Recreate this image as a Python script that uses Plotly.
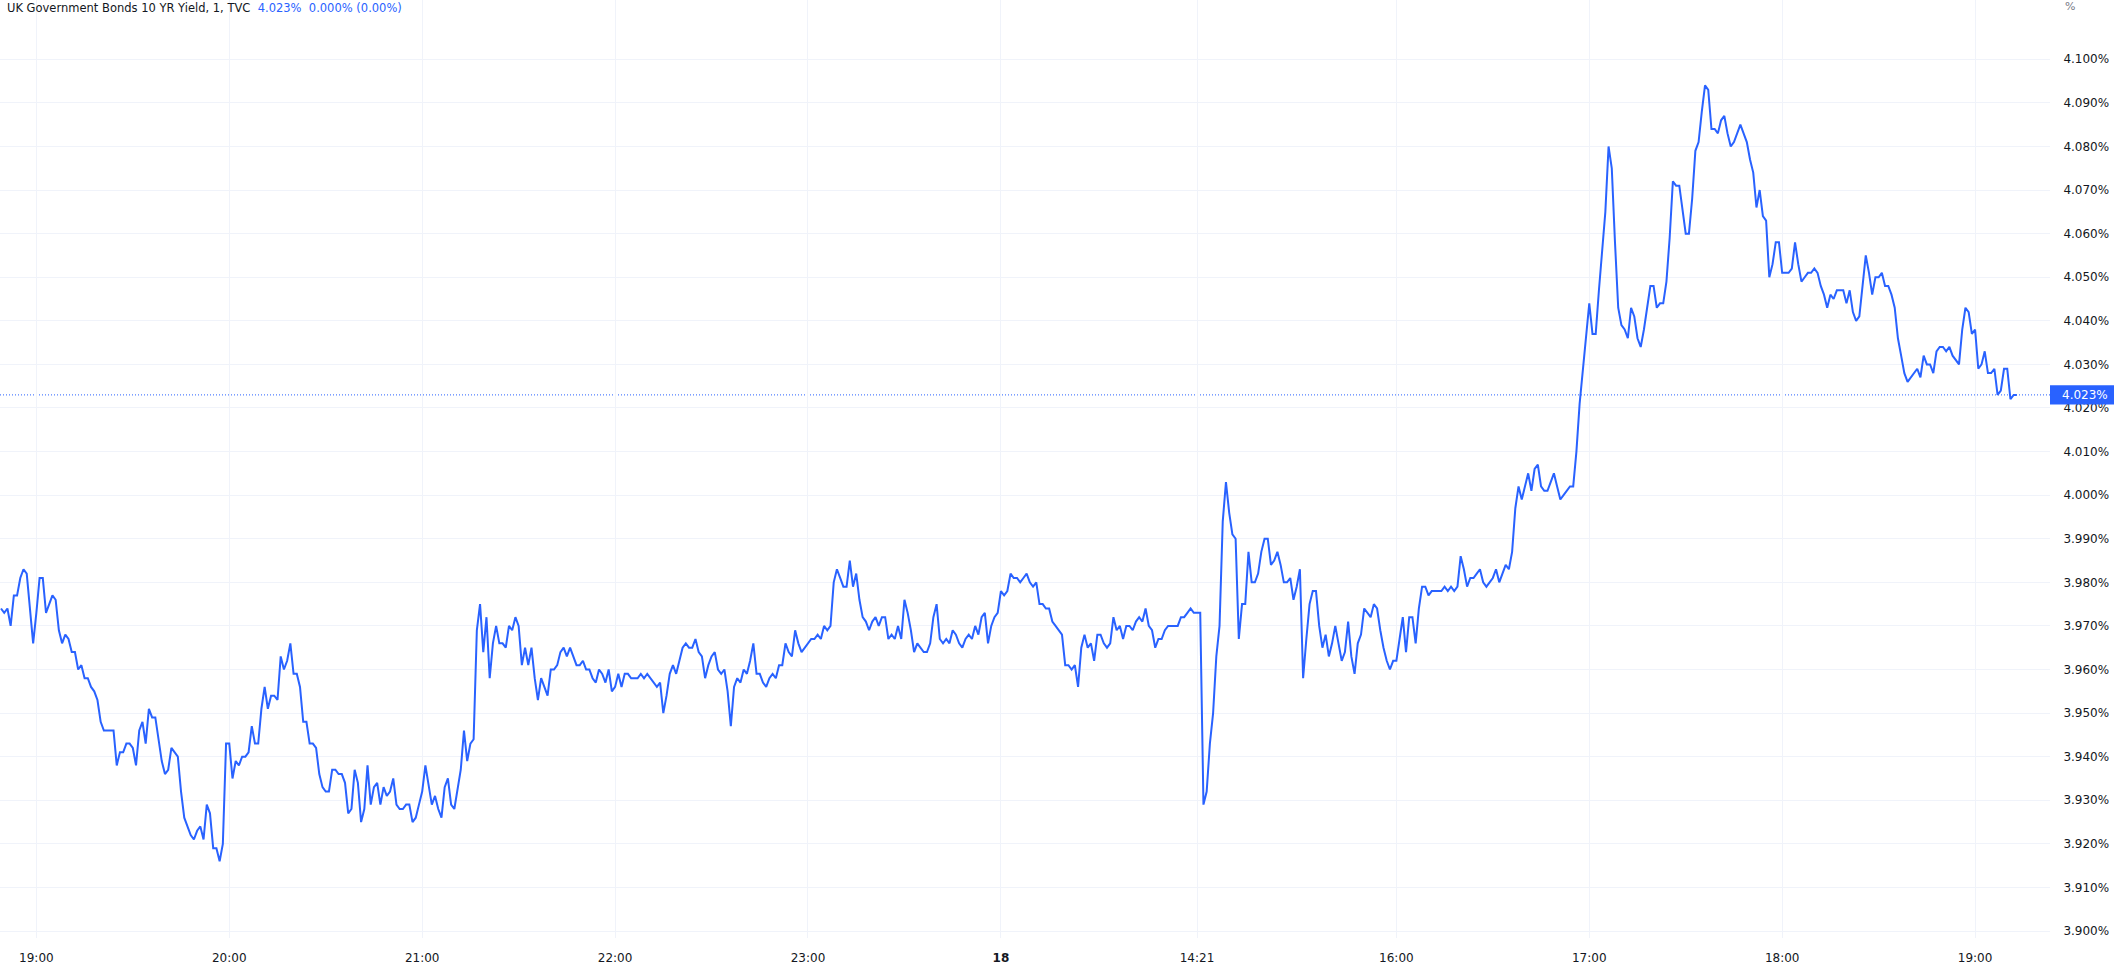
import plotly.graph_objects as go

# UK 10Y gilt yield (%), 1-minute closes.
# evening of the 17th, 18:49 onwards, up to the break
session_evening = [
    3.974, 3.973, 3.974, 3.970, 3.977, 3.977, 3.981, 3.983, 3.982, 3.973,
    3.966, 3.973, 3.981, 3.981, 3.973, 3.975, 3.977, 3.976, 3.969, 3.966,
    3.968, 3.967, 3.964, 3.964, 3.960, 3.961, 3.958, 3.958, 3.956, 3.955,
    3.953, 3.948, 3.946, 3.946, 3.946, 3.946, 3.938, 3.941, 3.941, 3.943,
    3.943, 3.942, 3.938, 3.946, 3.948, 3.943, 3.951, 3.949, 3.949, 3.944,
    3.939, 3.936, 3.937, 3.942, 3.941, 3.940, 3.932, 3.926, 3.924, 3.922,
    3.921, 3.923, 3.924, 3.921, 3.929, 3.927, 3.919, 3.919, 3.916, 3.920,
    3.943, 3.943, 3.935, 3.939, 3.938, 3.940, 3.940, 3.941, 3.947, 3.943,
    3.943, 3.951, 3.956, 3.951, 3.954, 3.954, 3.953, 3.963, 3.960, 3.962,
    3.966, 3.959, 3.959, 3.956, 3.948, 3.948, 3.943, 3.943, 3.942, 3.936,
    3.933, 3.932, 3.932, 3.937, 3.937, 3.936, 3.936, 3.934, 3.927, 3.928,
    3.937, 3.934, 3.925, 3.928, 3.938, 3.929, 3.933, 3.934, 3.929, 3.933,
    3.931, 3.932, 3.935, 3.929, 3.928, 3.928, 3.929, 3.929, 3.925, 3.926,
    3.929, 3.932, 3.938, 3.933, 3.929, 3.931, 3.928, 3.926, 3.933, 3.935,
    3.929, 3.928, 3.933, 3.937, 3.946, 3.939, 3.943, 3.944, 3.969, 3.975,
    3.964, 3.972, 3.958, 3.966, 3.970, 3.966, 3.966, 3.965, 3.970, 3.969,
    3.972, 3.970, 3.961,
    3.965, 3.961, 3.965, 3.958, 3.953, 3.958, 3.956, 3.954, 3.960, 3.960,
    3.961, 3.964, 3.965, 3.963, 3.965, 3.963, 3.961, 3.961, 3.962, 3.960,
    3.960, 3.958, 3.957, 3.960, 3.959, 3.957, 3.960, 3.955, 3.956,
    3.959, 3.956, 3.959, 3.959, 3.958, 3.958, 3.958, 3.959, 3.958, 3.959,
    3.958, 3.957, 3.956, 3.957, 3.950, 3.954, 3.959, 3.961, 3.959, 3.962,
    3.965, 3.966, 3.965, 3.965, 3.967, 3.964, 3.963, 3.958, 3.961, 3.963,
    3.964, 3.960, 3.959, 3.960, 3.955, 3.947, 3.956, 3.958, 3.957, 3.960,
    3.959, 3.962, 3.966, 3.959, 3.959, 3.957, 3.956, 3.958, 3.959, 3.958,
    3.961, 3.961, 3.966, 3.964, 3.963, 3.969, 3.966, 3.964, 3.965, 3.966,
    3.967, 3.967, 3.968, 3.967, 3.970, 3.969, 3.970, 3.980, 3.983, 3.981,
    3.979, 3.979, 3.985, 3.979, 3.982, 3.976, 3.972, 3.971, 3.969, 3.971,
    3.972, 3.970, 3.972, 3.972, 3.967, 3.968, 3.967, 3.970, 3.967, 3.976,
    3.973, 3.969, 3.964, 3.966, 3.965, 3.964, 3.964, 3.966, 3.972, 3.975,
    3.967, 3.966, 3.967, 3.966, 3.969, 3.968, 3.966, 3.965, 3.967, 3.968,
    3.967, 3.970, 3.968, 3.972, 3.973, 3.966, 3.970, 3.972, 3.973, 3.978,
    3.977, 3.978, 3.982, 3.981, 3.981, 3.980, 3.981, 3.982, 3.980, 3.979,
    3.980, 3.975, 3.975, 3.974, 3.974, 3.971, 3.970, 3.969, 3.968, 3.961,
    3.961, 3.960, 3.961, 3.956, 3.965, 3.968, 3.965, 3.966, 3.962, 3.968,
    3.968, 3.966, 3.965, 3.966, 3.972, 3.969, 3.970, 3.967, 3.970, 3.970,
    3.969, 3.971, 3.972, 3.971, 3.974, 3.970, 3.969, 3.965, 3.967, 3.967,
    3.969, 3.970, 3.970, 3.970, 3.970, 3.972, 3.972, 3.973, 3.974, 3.973,
    3.973, 3.973,
]

# the 18th, from the 14:21 reopen to the last bar
session_day = [
    3.929, 3.932, 3.943, 3.950, 3.963, 3.970, 3.994, 4.003, 3.996, 3.991,
    3.990, 3.967, 3.975, 3.975, 3.987, 3.980, 3.980, 3.982, 3.987, 3.990,
    3.990, 3.984, 3.985, 3.987, 3.984, 3.980, 3.980, 3.981, 3.976, 3.979,
    3.983, 3.958, 3.967, 3.975, 3.978, 3.978, 3.970, 3.965, 3.968, 3.963,
    3.966, 3.970, 3.966, 3.962, 3.964, 3.971, 3.963, 3.959, 3.966, 3.968,
    3.974, 3.973, 3.972, 3.975, 3.974, 3.969, 3.965, 3.962, 3.960, 3.962,
    3.962,
    3.967, 3.972, 3.964, 3.972, 3.972, 3.966, 3.974, 3.979, 3.979, 3.977,
    3.978, 3.978, 3.978, 3.978, 3.979, 3.978, 3.979, 3.978, 3.979, 3.986,
    3.983, 3.979, 3.981, 3.981, 3.982, 3.983, 3.980, 3.979, 3.980, 3.981,
    3.983, 3.980, 3.982, 3.984, 3.983, 3.987, 3.997, 4.002, 3.999, 4.002,
    4.005, 4.001, 4.006, 4.007, 4.002,
    4.001, 4.001, 4.003, 4.005, 4.002, 3.999, 4.000, 4.001, 4.002, 4.002,
    4.010, 4.021, 4.029, 4.036, 4.044,
    4.037, 4.037, 4.047, 4.056, 4.065, 4.080, 4.075, 4.058, 4.043, 4.039,
    4.038, 4.036, 4.043, 4.041, 4.036, 4.034, 4.038, 4.043, 4.048, 4.048,
    4.043, 4.044, 4.044, 4.049, 4.059, 4.072, 4.071, 4.071, 4.065, 4.060,
    4.060, 4.068, 4.079, 4.081, 4.088, 4.094, 4.093, 4.084, 4.084, 4.083,
    4.086, 4.087, 4.083, 4.080, 4.081, 4.083, 4.085, 4.083, 4.081, 4.077,
    4.074, 4.066, 4.070, 4.064, 4.063, 4.050, 4.053, 4.058, 4.058, 4.051,
    4.051, 4.051, 4.052, 4.058, 4.053, 4.049, 4.050, 4.051, 4.051, 4.052,
    4.051, 4.048, 4.046, 4.043, 4.046, 4.045, 4.047, 4.047, 4.047, 4.044,
    4.047, 4.042, 4.040, 4.041, 4.048, 4.055, 4.051, 4.046, 4.050, 4.050,
    4.051, 4.048, 4.048, 4.046, 4.043, 4.036, 4.032, 4.028, 4.026, 4.027,
    4.028, 4.029, 4.027, 4.032, 4.030, 4.030, 4.028, 4.033, 4.034, 4.034,
    4.033, 4.034, 4.032, 4.031, 4.030, 4.038, 4.043, 4.042, 4.037, 4.038,
    4.029, 4.030, 4.033, 4.028, 4.028, 4.029, 4.023, 4.024, 4.029, 4.029,
    4.022, 4.023, 4.023,
]

time_labels = ["19:00", "20:00", "21:00", "22:00", "23:00", "<b>18</b>",
               "14:21", "16:00", "17:00", "18:00", "19:00"]
time_label_bars = [11, 71, 131, 191, 251, 311, 372, 434, 494, 554, 614]

price_ticks = [3.90, 3.91, 3.92, 3.93, 3.94, 3.95, 3.96, 3.97, 3.98, 3.99, 4.00,
               4.01, 4.02, 4.03, 4.04, 4.05, 4.06, 4.07, 4.08, 4.09, 4.10]

symbol_name = "UK Government Bonds 10 YR Yield, 1, TVC"
change_text = "0.000% (0.00%)"

BLUE = "#2962FF"
TEXT = "#131722"
GRID = "#f0f3fa"
FONT = "DejaVu Sans"

yields = session_evening + session_day
bars = list(range(len(yields)))
last = yields[-1]

fig = go.Figure()

fig.add_trace(
    go.Scatter(
        x=bars,
        y=yields,
        mode="lines",
        line=dict(color=BLUE, width=2),
        hoverinfo="skip",
        showlegend=False
    )
)

# last price line
fig.add_shape(
    type="line",
    xref="paper", x0=0, x1=1,
    yref="y", y0=last, y1=last,
    line=dict(color=BLUE, width=1, dash="1px,2px"),
    layer="below"
)

# last price badge on the scale
fig.add_shape(
    type="rect",
    xref="paper", x0=1, x1=1.032,
    yref="y", y0=last - 0.0022, y1=last + 0.0022,
    line=dict(width=0),
    fillcolor=BLUE,
    layer="above"
)
fig.add_annotation(
    xref="paper", x=1, xanchor="left", xshift=10,
    yref="y", y=last, yanchor="middle",
    text=f"{last:.3f}%",
    showarrow=False,
    font=dict(family=FONT, size=12, color="white")
)

# legend line at the top left
fig.add_annotation(
    xref="paper", x=0, xanchor="left", xshift=5,
    yref="paper", y=1, yanchor="top", yshift=1,
    text=(f"{symbol_name}\u00a0\u00a0<span style='color:{BLUE}'>{last:.3f}%"
          f"\u00a0\u00a0{change_text}</span>"),
    showarrow=False,
    font=dict(family=FONT, size=11.5, color=TEXT)
)

# unit mark above the price scale
fig.add_annotation(
    xref="paper", x=1, xanchor="left", xshift=13,
    yref="paper", y=1, yanchor="top", yshift=2,
    text="%",
    showarrow=False,
    font=dict(family=FONT, size=11, color="#787b86")
)

fig.update_layout(
    width=2114,
    height=968,
    margin=dict(l=0, r=64, t=0, b=30),
    paper_bgcolor="white",
    plot_bgcolor="white",
    font=dict(family=FONT, size=12, color=TEXT),
    xaxis=dict(
        range=[-0.31, 637.3],
        tickvals=time_label_bars,
        ticktext=time_labels,
        tickfont=dict(size=12),
        showgrid=True,
        gridcolor=GRID,
        gridwidth=1,
        zeroline=False,
        showline=False,
        ticks="outside",
        ticklen=9,
        tickcolor="rgba(0,0,0,0)",
        fixedrange=True
    ),
    yaxis=dict(
        side="right",
        range=[3.8984, 4.1136],
        tickvals=price_ticks,
        ticktext=[f"{v:.3f}%" for v in price_ticks],
        tickfont=dict(size=12),
        showgrid=True,
        gridcolor=GRID,
        gridwidth=1,
        zeroline=False,
        showline=False,
        ticks="outside",
        ticklen=10,
        tickcolor="rgba(0,0,0,0)",
        fixedrange=True
    )
)

# the default page keeps an 8px body margin; pin the chart to the corner
fig.write_html(
    "out.html",
    config={"displayModeBar": False},
    post_script="document.body.style.margin='0';document.body.style.overflow='hidden';"
)
